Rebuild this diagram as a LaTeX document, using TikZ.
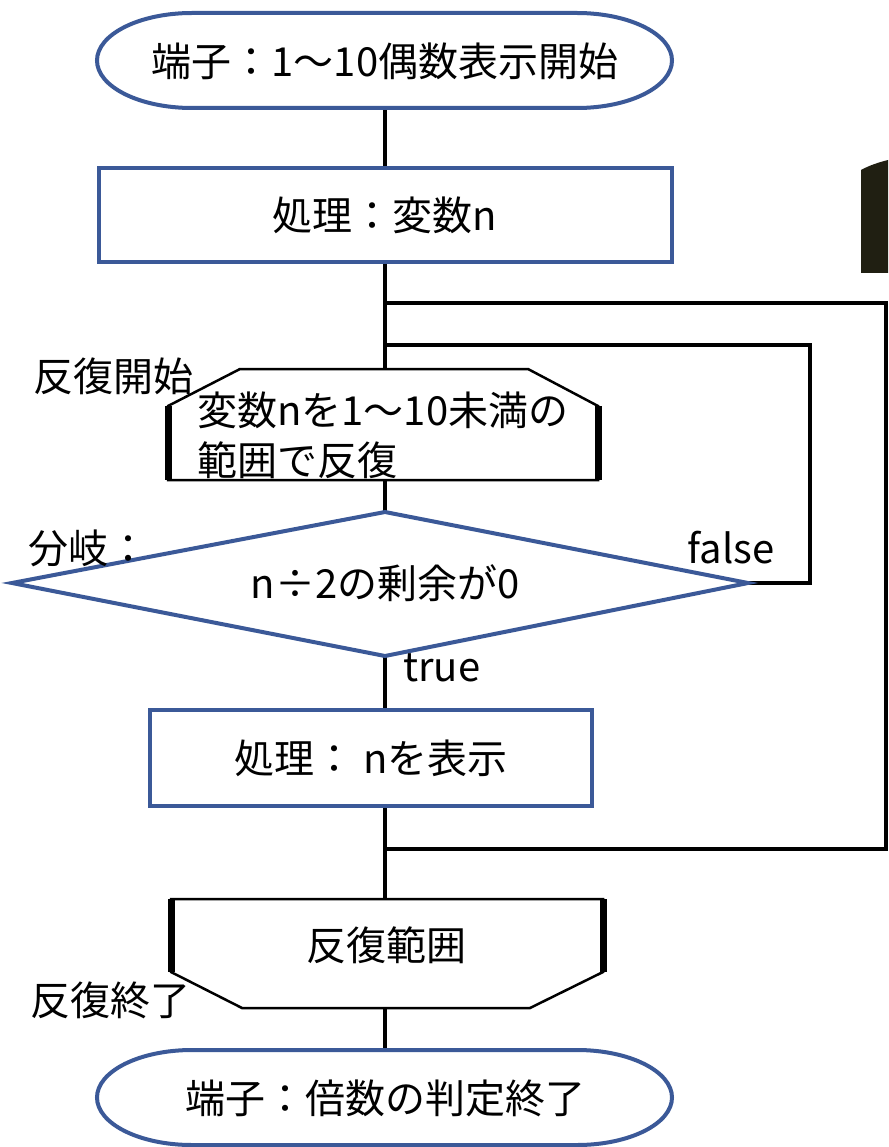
\documentclass[tikz,border=0pt]{standalone}
\usepackage{fontspec}
\setmainfont{Noto Sans CJK JP}
\definecolor{flowblue}{RGB}{59,89,152}
\definecolor{blobcol}{RGB}{32,31,18}
\begin{document}
\begin{tikzpicture}[x=1pt,y=1pt,
  blueline/.style={draw=flowblue,line width=4pt},
  conn/.style={draw=black,line width=4pt},
  loopthin/.style={draw=black,line width=2.5pt,fill=white},
  loopthick/.style={draw=black,line width=7pt},
  txt/.style={font=\fontsize{40}{50}\selectfont,inner sep=0pt},
  procbox/.style={blueline,fill=white,inner sep=0pt,font=\fontsize{40}{50}\selectfont},
]
\useasboundingbox (0,0) rectangle (888,-1147);
\fill[white] (0,0) rectangle (888,-1147);

% decorative black block at top right
\fill[blobcol] (861,-170) .. controls (870,-165) and (880,-162) .. (888,-160) -- (888,-273) -- (861,-273) -- cycle;

% named points
\coordinate (sB) at (385,-108);
\coordinate (j1) at (385,-303);
\coordinate (j2) at (385,-345);
\coordinate (o1) at (886,-303);
\coordinate (o2) at (886,-849);
\coordinate (j4) at (385,-849);
\coordinate (i1) at (810,-345);
\coordinate (i2) at (810,-583);
\coordinate (lsN) at (385,-369);
\coordinate (lsS) at (385,-480);
\coordinate (dT) at (385,-512);
\coordinate (dR) at (748,-583);
\coordinate (dB) at (385,-656);
\coordinate (dL) at (12,-583);
\coordinate (leN) at (385,-899);
\coordinate (leS) at (385,-1008);
\coordinate (eT) at (385,-1050);

% process boxes
\node[procbox,minimum width=573pt,minimum height=94pt] (p1) at (385,-215) {処理：変数n};
\node[procbox,minimum width=442pt,minimum height=96pt] (p2) at (371,-758) {処理： nを表示};

% connectors
\draw[conn] (sB) -- (p1.north -| sB);
\draw[conn] (p1.south -| sB) -- (lsN);
\draw[conn] (j1) -- (o1) -- (o2) -- (j4);
\draw[conn] (j2) -- (i1) -- (i2) -- (dR);
\draw[conn] (lsS) -- (dT);
\draw[conn] (dB) -- (dB |- p2.north);
\draw[conn] (dB |- p2.south) -- (leN);
\draw[conn] (leS) -- (eT);

% start terminal
\draw[blueline,fill=white] (192,-13) -- (577,-13) arc[start angle=90,end angle=-90,x radius=95,y radius=47.5] -- (192,-108) arc[start angle=270,end angle=90,x radius=95,y radius=47.5] -- cycle;
\node[txt] (start) at (385,-61) {端子：1～10偶数表示開始};

% end terminal
\draw[blueline,fill=white] (192,-1050) -- (577,-1050) arc[start angle=90,end angle=-90,x radius=95,y radius=47.5] -- (192,-1145) arc[start angle=270,end angle=90,x radius=95,y radius=47.5] -- cycle;
\node[txt] (end) at (385,-1098) {端子：倍数の判定終了};

% loop start
\draw[loopthin] (168,-480) -- (168,-406) -- (240,-369) -- (528,-369) -- (598,-406) -- (598,-480) -- cycle;
\draw[loopthick] (168,-406) -- (168,-480);
\draw[loopthick] (598,-406) -- (598,-480);
\node[txt,anchor=west,align=left] (ls) at (197,-435) {変数nを1～10未満の\\範囲で反復};

% decision
\draw[blueline,fill=white] (dT) -- (dR) -- (dB) -- (dL) -- cycle;
\node[txt] (dec) at (385,-583) {n÷2の剰余が0};

% loop end
\draw[loopthin] (171,-899) -- (603,-899) -- (603,-972) -- (530,-1008) -- (242,-1008) -- (171,-972) -- cycle;
\draw[loopthick] (171,-899) -- (171,-972);
\draw[loopthick] (603,-899) -- (603,-972);
\node[txt] (le) at (386,-945) {反復範囲};

% labels
\node[txt,anchor=west] (lbl1) at (33,-376) {反復開始};
\node[txt,anchor=west] (lbl2) at (28,-548) {分岐：};
\node[txt] (lblf) at (731,-548) {false};
\node[txt,anchor=west] (lblt) at (403,-668) {true};
\node[txt,anchor=west] (lbl3) at (30,-1000) {反復終了};
\end{tikzpicture}
\end{document}
